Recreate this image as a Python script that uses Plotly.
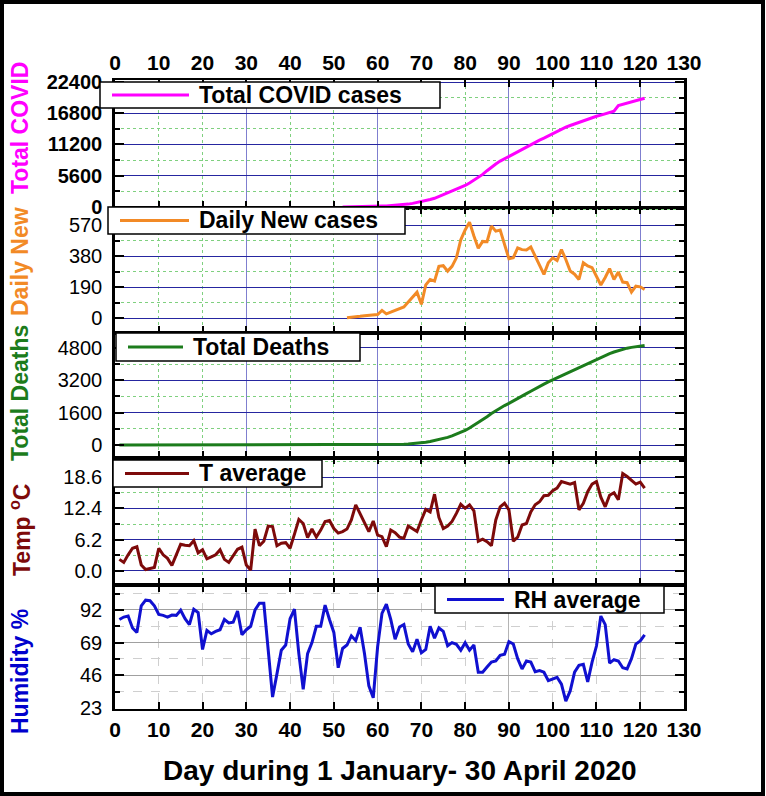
import plotly.graph_objects as go

FONT = "Liberation Sans, Arial, sans-serif"

# day of year 2020 (1 = 1 January, 121 = 30 April)
days = list(range(1, 122))

case_days = list(range(52, 122))
total_cases = [
    0, 4, 10, 20, 33, 50, 70, 92, 116, 165,
    193, 231, 279, 341, 411, 511, 641, 801, 887, 1092,
    1330, 1558, 1876, 2198, 2487, 2805, 3175, 3500, 3850, 4300,
    4770, 5300, 5840, 6500, 7150, 7700, 8220, 8650, 9050, 9450,
    9830, 10280, 10720, 11170, 11620, 11980, 12330, 12720, 13100, 13550,
    14000, 14300, 14600, 14900, 15190, 15490, 15790, 16030, 16260, 16470,
    16680, 16920, 17160, 18170, 18380, 18590, 18830, 19060, 19300, 19480,
]

new_days = list(range(53, 122))
daily_new = [
    4, 6, 10, 13, 17, 20, 22, 24, 49, 28,
    38, 48, 62, 70, 100, 130, 160, 86, 205, 238,
    228, 318, 322, 289, 318, 370, 480, 540, 588, 503,
    428, 470, 468, 564, 533, 540, 450, 364, 371, 430,
    420, 418, 436, 381, 320, 269, 340, 370, 354, 420,
    360, 289, 270, 238, 340, 320, 310, 260, 204, 250,
    304, 238, 283, 222, 218, 161, 197, 193, 177,
]

total_deaths = [0] * 59 + [
    2, 5, 8, 12, 18, 25, 35, 48, 65, 85,
    110, 140, 175, 220, 270, 320, 380, 450, 530, 620,
    720, 840, 970, 1100, 1240, 1400, 1560, 1700, 1830, 1950,
    2060, 2170, 2290, 2420, 2540, 2660, 2790, 2900, 3010, 3120,
    3220, 3330, 3430, 3530, 3640, 3740, 3850, 3950, 4050, 4150,
    4250, 4340, 4430, 4520, 4600, 4670, 4740, 4790, 4830, 4860,
    4890, 4920,
]

t_average = [
    2.3, 1.7, 3.2, 4.5, 4.8, 1.2, 0.3, 0.5, 0.7, 4.5,
    3.2, 2.5, 1.1, 3.2, 5.3, 5.1, 5.0, 6.0, 3.6, 4.2,
    2.4, 2.8, 3.2, 4.2, 2.3, 1.7, 3.0, 4.3, 4.7, 1.2,
    0.2, 8.3, 5.0, 5.9, 8.9, 8.8, 5.0, 5.5, 5.6, 4.5,
    7.3, 10.2, 9.4, 6.6, 8.3, 6.7, 8.1, 9.8, 10.0, 8.4,
    7.5, 7.8, 8.3, 10.1, 13.1, 11.4, 9.6, 7.8, 9.9, 7.1,
    6.8, 4.8, 8.1, 7.6, 6.7, 6.5, 8.9, 8.4, 7.8, 10.1,
    12.2, 11.7, 15.2, 10.6, 8.4, 8.9, 9.8, 11.4, 13.2, 12.4,
    13.1, 11.9, 5.9, 6.3, 5.8, 5.0, 10.1, 12.7, 13.4, 12.1,
    5.9, 6.7, 9.1, 9.4, 11.7, 13.1, 13.7, 14.9, 15.0, 15.9,
    16.4, 17.7, 17.5, 17.2, 17.5, 12.1, 13.4, 15.7, 17.2, 17.7,
    14.6, 12.7, 15.0, 15.5, 14.1, 19.3, 18.7, 17.9, 17.2, 17.6, 16.4,
]

rh_average = [
    85.3, 87.0, 87.7, 79.3, 76.2, 94.9, 98.9, 98.5, 94.9, 88.9,
    88.2, 87.0, 88.4, 88.2, 91.8, 85.8, 81.7, 92.5, 90.1, 64.2,
    77.6, 75.2, 76.9, 78.1, 85.3, 82.9, 83.4, 91.3, 74.5, 78.1,
    80.5, 92.0, 96.8, 96.8, 64.0, 30.7, 47.0, 63.7, 67.3, 85.8,
    92.5, 61.3, 36.2, 61.3, 69.0, 80.5, 80.5, 95.4, 85.3, 76.2,
    51.3, 64.9, 67.3, 73.8, 70.4, 79.8, 61.3, 38.6, 30.2, 66.1,
    89.6, 96.1, 85.3, 71.4, 80.0, 81.7, 68.0, 62.5, 71.4, 61.8,
    64.2, 80.5, 72.1, 79.3, 76.9, 66.8, 69.0, 67.8, 63.7, 69.0,
    63.7, 67.3, 48.2, 48.2, 51.8, 55.3, 56.1, 60.1, 60.9, 69.7,
    68.0, 57.7, 50.5, 56.1, 55.3, 48.6, 49.4, 48.2, 42.2, 43.4,
    44.6, 39.8, 27.8, 35.0, 48.2, 53.0, 53.7, 41.4, 55.3, 66.6,
    87.7, 81.7, 54.6, 57.0, 56.1, 51.3, 50.5, 57.7, 68.0, 70.2, 74.5,
]

C_CASES = "#ff00ff"
C_NEW = "#f28a26"
C_DEATHS = "#1c7c1c"
C_TEMP = "#7d0a0a"
C_RH = "#1010d0"

# plot area in pixels: left 115, right 684, top 80, bottom 709
L, R, T, B = 115, 684, 80, 709


def px(x):
    return (x - L) / (R - L)


def py(y):
    return (B - y) / (B - T)


# panel settings, top to bottom; box = legend box (x0, x1, y0, y1, text start) in px
panels = [
    dict(name="Total COVID cases", x=case_days, y=total_cases, color=C_CASES,
         title="Total COVID", tcolor=C_CASES, domain=[0.797, 1.0],
         range=[-130, 22760], dtick=5600, tick0=0, fmt="d", bold=True,
         box=(100, 440, 82, 108, 197), ty=128, lw=2),
    dict(name="Daily New cases", x=new_days, y=daily_new, color=C_NEW,
         title="Daily New", tcolor=C_NEW, domain=[0.598, 0.797],
         range=[-88, 676], dtick=190, tick0=0, fmt="d", bold=False,
         box=(108, 405, 207, 234, 197), ty=262, lw=1.5),
    dict(name="Total Deaths", x=days, y=total_deaths, color=C_DEATHS,
         title="Total Deaths", tcolor=C_DEATHS, domain=[0.3995, 0.598],
         range=[-628, 5547], dtick=1600, tick0=0, fmt="d", bold=False,
         box=(116, 360, 333, 361, 191), ty=393, lw=1.5),
    dict(name="T average", x=days, y=t_average, color=C_TEMP,
         title="Temp <sup>o</sup>C", tcolor=C_TEMP, domain=[0.197, 0.3995],
         range=[-2.79, 22.42], dtick=6.2, tick0=0, fmt=".1f", bold=False,
         box=(113, 322, 460, 487, 197), ty=530, lw=1.5),
    dict(name="RH average", x=days, y=rh_average, color=C_RH,
         title="Humidity %", tcolor="#0000cd", domain=[0.0, 0.197],
         range=[22.3, 109.5], dtick=23, tick0=23, fmt=None, bold=False,
         box=(435, 664, 586, 613, 512), ty=672, lw=2),
]

fig = go.Figure()
layout = {}

for i, p in enumerate(panels, start=1):
    sfx = "" if i == 1 else str(i)
    fig.add_trace(go.Scatter(
        x=p["x"], y=p["y"], mode="lines", name=p["name"],
        line=dict(color=p["color"], width=3),
        xaxis=f"x{sfx}", yaxis=f"y{sfx}", showlegend=False,
    ))

    last = i == 5
    xgrid = "#b4b4b4" if last else "#7f7fcf"
    xminor = "#cfcfcf" if last else "#7fd07f"
    ygrid = "#a0a0a0" if last else "#2626a0"
    yminor = "#cfcfcf" if last else "#7fd07f"
    dash = "dash" if last else "dot"

    layout[f"xaxis{sfx}"] = dict(
        domain=[0, 1], anchor=f"y{sfx}", range=[0, 130],
        dtick=30, tick0=0, showticklabels=False,
        ticks="inside", ticklen=7, tickwidth=2, tickcolor="black",
        showline=True, linecolor="black", linewidth=p["lw"], mirror="ticks",
        showgrid=True, gridcolor=xgrid, gridwidth=1, zeroline=False,
        minor=dict(dtick=10, tick0=0, ticks="inside", ticklen=7, tickwidth=2,
                   tickcolor="black", showgrid=True, gridcolor=xminor,
                   griddash=dash, gridwidth=1),
    )
    layout[f"yaxis{sfx}"] = dict(
        domain=p["domain"], anchor=f"x{sfx}", range=p["range"],
        dtick=p["dtick"], tick0=p["tick0"], tickformat=p["fmt"],
        ticks="inside", ticklen=9, tickwidth=2, tickcolor="black",
        showline=True, linecolor="black", linewidth=2.5, mirror="ticks",
        showgrid=True, gridcolor=ygrid, gridwidth=1.2, zeroline=False,
        ticklabelstandoff=6,
        tickfont=dict(family=FONT, size=20, color="black",
                      weight="bold" if p["bold"] else "normal"),
        minor=dict(dtick=p["dtick"] / 2, ticks="inside", ticklen=5, tickwidth=2,
                   tickcolor="black", showgrid=True, gridcolor=yminor,
                   griddash=dash, gridwidth=1),
    )

    # legend box: white frame, line sample and bold label
    x0, x1, y0, y1, tx = p["box"]
    ym = (y0 + y1) / 2
    fig.add_shape(type="rect", xref="paper", yref="paper", layer="above",
                  x0=px(x0), x1=px(x1), y0=py(y1), y1=py(y0),
                  line=dict(color="black", width=1.5), fillcolor="white")
    fig.add_shape(type="line", xref="paper", yref="paper", layer="above",
                  x0=px(x0 + 12), x1=px(tx - 8),
                  y0=py(ym), y1=py(ym), line=dict(color=p["color"], width=3))
    fig.add_annotation(
        text=p["name"], xref="paper", yref="paper", x=px(tx), y=py(ym),
        xanchor="left", yanchor="middle", showarrow=False,
        font=dict(family=FONT, size=23, color="black", weight="bold"),
    )

    fig.add_annotation(
        text=p["title"], xref="paper", yref="paper", x=px(20), y=py(p["ty"]),
        xanchor="center", yanchor="middle", textangle=-90, showarrow=False,
        font=dict(family=FONT, size=23, color=p["tcolor"], weight="bold"),
    )

# tick label axes 0..130 on top of the first panel and below the last one
label_axis = dict(
    range=[0, 130], dtick=10, tick0=0, showgrid=False, zeroline=False,
    showline=False, ticks="outside", tickcolor="rgba(0,0,0,0)",
    tickfont=dict(family=FONT, size=21, color="black", weight="bold"),
)
layout["xaxis6"] = dict(label_axis, overlaying="x", anchor="y", side="top",
                        ticklen=1)
layout["xaxis7"] = dict(label_axis, overlaying="x5", anchor="y5", side="bottom",
                        ticklen=2)
fig.add_trace(go.Scatter(x=case_days, y=total_cases, xaxis="x6", yaxis="y",
                         opacity=0, showlegend=False, hoverinfo="skip"))
fig.add_trace(go.Scatter(x=days, y=rh_average, xaxis="x7", yaxis="y5",
                         opacity=0, showlegend=False, hoverinfo="skip"))

fig.add_annotation(
    text="Day during 1 January- 30 April 2020", xref="paper", yref="paper",
    x=0.5, y=py(770), xanchor="center", yanchor="middle", showarrow=False,
    font=dict(family=FONT, size=28, color="black", weight="bold"),
)

# outer frame of the figure
fig.add_shape(type="rect", xref="paper", yref="paper",
              x0=px(2), x1=px(763), y0=py(794), y1=py(2),
              line=dict(color="black", width=4), fillcolor="rgba(0,0,0,0)")

fig.update_layout(
    **layout,
    width=766, height=796,
    margin=dict(l=L, r=766 - R, t=T, b=796 - B),
    paper_bgcolor="white", plot_bgcolor="white",
    font=dict(family=FONT, color="black"),
    showlegend=False,
)

fig.write_html(
    "out.html",
    config={"displayModeBar": False},
    post_script="document.body.style.margin='0';document.body.style.overflow='hidden';",
)
